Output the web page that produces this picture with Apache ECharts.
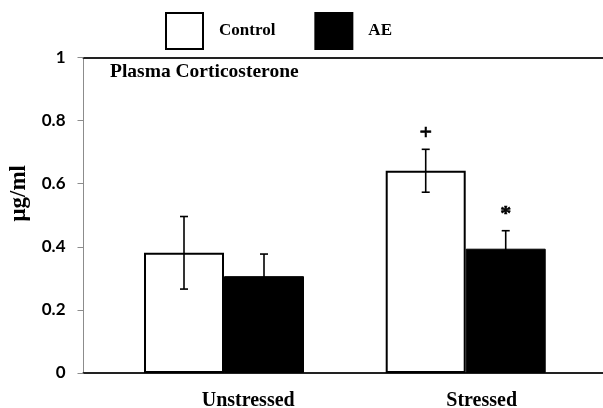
<!DOCTYPE html>
<html>
<head>
<meta charset="utf-8">
<script src="https://cdn.jsdelivr.net/npm/echarts@6/dist/echarts.min.js"></script>
<style>
  html, body { margin: 0; padding: 0; background: #fff; }
  #chart { width: 603px; height: 408px; }
</style>
</head>
<body>
<div id="chart"></div>
<script>
// Plasma corticosterone (µg/ml), mean ± error, by condition
const categories = ['Unstressed', 'Stressed'];
const groupPos = [1, 2];                 // position of each condition on the x scale
const controlMean = [0.381, 0.641];
const controlErr  = [0.115, 0.068];
const aeMean      = [0.307, 0.394];
const aeErr       = [0.070, 0.057];
const controlMarks = ['', '+'];
const aeMarks      = ['', '*'];
const yTicks = [0, 0.2, 0.4, 0.6, 0.8, 1];

const SERIF = '"Liberation Serif", "Times New Roman", serif';
const BAR_W = 80;

const chart = echarts.init(document.getElementById('chart'), null, { renderer: 'canvas' });

function barData(means) {
  return groupPos.map((x, i) => [x, means[i]]);
}
function errData(means, errs, marks) {
  return groupPos.map((x, i) => [x, means[i], errs[i], marks[i]]);
}

// Error bar with caps, plus an optional significance mark above it
function makeErrorRenderer(offset) {
  return function (params, api) {
    const x = api.value(0), m = api.value(1), e = api.value(2);
    const mark = api.value(3);
    const top = api.coord([x, m + e]);
    const bot = api.coord([x, m - e]);
    const cx = top[0] + offset;
    const cap = 4;
    const ls = { stroke: '#000', lineWidth: 1.6 };
    const children = [
      { type: 'line', shape: { x1: cx, y1: top[1], x2: cx, y2: bot[1] }, style: ls },
      { type: 'line', shape: { x1: cx - cap, y1: top[1], x2: cx + cap, y2: top[1] }, style: ls },
      { type: 'line', shape: { x1: cx - cap, y1: bot[1], x2: cx + cap, y2: bot[1] }, style: ls }
    ];
    if (mark) {
      children.push({
        type: 'text',
        style: {
          text: mark, x: cx, y: top[1] - 16,
          align: 'center', verticalAlign: 'middle',
          font: 'bold 22px ' + SERIF, fill: '#000',
          stroke: '#000', lineWidth: 0.6
        }
      });
    }
    return { type: 'group', children: children };
  };
}

const xMin = 0.4187, xMax = 2.568;

chart.setOption({
  animation: false,
  backgroundColor: '#fff',
  title: {
    text: 'Plasma Corticosterone',
    left: 110, top: 62, padding: 0,
    textStyle: { fontFamily: SERIF, fontWeight: 'bold', fontSize: 19.5, color: '#000' }
  },
  legend: {
    left: 165, top: 12, padding: 0,
    itemWidth: 37, itemHeight: 36, itemGap: 39,
    icon: 'rect',
    data: [
      { name: 'Control', itemStyle: { color: '#fff', borderColor: '#000', borderWidth: 2 } },
      { name: 'AE', itemStyle: { color: '#000', borderColor: '#000', borderWidth: 2 } }
    ],
    textStyle: { fontFamily: SERIF, fontWeight: 'bold', fontSize: 17, color: '#000', padding: [0, 0, 0, 11] }
  },
  grid: { left: 83.5, right: 0, top: 57.5, bottom: 35, containLabel: false, outerBoundsMode: 'none' },
  xAxis: [
    {
      type: 'value', min: xMin, max: xMax,
      axisLine: { show: true, onZero: false, lineStyle: { color: '#222', width: 2 } },
      axisTick: { show: false },
      splitLine: { show: false },
      axisLabel: {
        show: true,
        customValues: [1.1, 2.066],
        formatter: v => categories[v < 1.5 ? 0 : 1],
        margin: 18,
        fontFamily: SERIF, fontWeight: 'bold', fontSize: 20, color: '#000'
      }
    },
    {
      type: 'value', position: 'top', min: xMin, max: xMax,
      axisLine: { show: true, onZero: false, lineStyle: { color: '#222', width: 2 } },
      axisTick: { show: false },
      axisLabel: { show: false },
      splitLine: { show: false }
    }
  ],
  yAxis: {
    type: 'value', min: 0, max: 1, interval: 0.2,
    name: 'μg/ml', nameLocation: 'middle', nameGap: 50, nameRotate: 90,
    nameTextStyle: { fontFamily: SERIF, fontWeight: 'bold', fontSize: 23, color: '#000', padding: [0, 0, 0, 44] },
    axisLine: { show: true, lineStyle: { color: '#8c8c8c', width: 1 } },
    axisTick: { show: true, length: 6, lineStyle: { color: '#8c8c8c' } },
    splitLine: { show: false },
    axisLabel: {
      margin: 18,
      formatter: v => String(yTicks.find(t => Math.abs(t - v) < 1e-9) ?? v),
      fontFamily: 'Lato, "Open Sans", sans-serif', fontWeight: 'bold', fontSize: 17, color: '#000'
    }
  },
  series: [
    {
      name: 'Control', type: 'bar', xAxisIndex: 0,
      barWidth: BAR_W, barGap: '0%',
      data: barData(controlMean),
      itemStyle: { color: '#fff', borderColor: '#000', borderWidth: 2 },
      z: 2
    },
    {
      name: 'AE', type: 'bar', xAxisIndex: 0,
      barWidth: BAR_W, barGap: '0%',
      data: barData(aeMean),
      itemStyle: { color: '#000', borderColor: '#000', borderWidth: 1 },
      z: 2
    },
    {
      name: 'Control err', type: 'custom', xAxisIndex: 0,
      renderItem: makeErrorRenderer(-BAR_W / 2),
      data: errData(controlMean, controlErr, controlMarks),
      encode: { x: 0, y: 1 }, z: 5, clip: false
    },
    {
      name: 'AE err', type: 'custom', xAxisIndex: 0,
      renderItem: makeErrorRenderer(BAR_W / 2),
      data: errData(aeMean, aeErr, aeMarks),
      encode: { x: 0, y: 1 }, z: 5, clip: false
    }
  ]
});
</script>
</body>
</html>
